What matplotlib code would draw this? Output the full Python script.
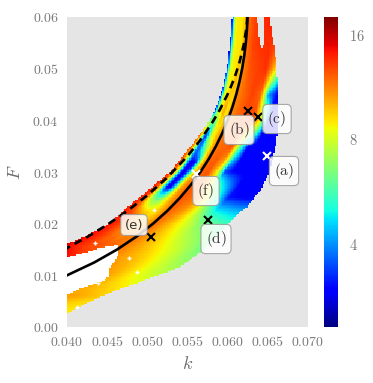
import numpy as np
import matplotlib
matplotlib.use('Agg')
import matplotlib.pyplot as plt
from matplotlib.colors import LogNorm
from matplotlib.path import Path

plt.rcParams['mathtext.fontset'] = 'cm'

# ---------------- data ----------------
# saddle-node curve (solid)
sn_F = [0.002, 0.004, 0.006, 0.008, 0.0095, 0.01, 0.0125, 0.015, 0.0175, 0.02, 0.0225,
        0.025, 0.0275, 0.03, 0.0325, 0.035, 0.0375, 0.04, 0.0425, 0.045, 0.0475,
        0.05, 0.0525, 0.055, 0.0575, 0.06, 0.061]
sn_k = [0.020361, 0.027623, 0.03273, 0.036721, 0.039234, 0.04, 0.043402, 0.046237,
        0.048644, 0.050711, 0.0525, 0.054057, 0.055416, 0.056603, 0.057639, 0.058541,
        0.059325, 0.06, 0.060578, 0.061066, 0.061472, 0.061803, 0.062064, 0.06226,
        0.062396, 0.062474, 0.06249]

# Hopf curve (dashed)
hopf_k = [0.0395, 0.04, 0.0425, 0.045, 0.0475, 0.05, 0.0525, 0.055, 0.0565, 0.058,
          0.059, 0.06, 0.0605, 0.061, 0.0615, 0.062, 0.0623, 0.0624, 0.06245]
hopf_F = [0.014879, 0.015279, 0.01741, 0.019787, 0.022454, 0.025476, 0.028962,
          0.033082, 0.035986, 0.039357, 0.041981, 0.045066, 0.046865, 0.048922,
          0.051383, 0.054617, 0.057504, 0.058966, 0.0605]

# outer (upper-left) boundary of the coloured region
edge_k = [0.0395, 0.04, 0.04286, 0.04535, 0.04784, 0.05033, 0.0532, 0.05618, 0.0578,
          0.05842, 0.0593, 0.05992, 0.06029, 0.06054, 0.06058]
edge_F = [0.01572, 0.01606, 0.0180, 0.02013, 0.02361, 0.02671, 0.03058, 0.03658,
          0.04006, 0.042, 0.04587, 0.05032, 0.05497, 0.06, 0.0606]

# right / lower boundary of the coloured region (top to bottom)
rb_k = [0.06527, 0.06527, 0.06552, 0.06589, 0.06614, 0.06627, 0.06627, 0.06589,
        0.06527, 0.06428, 0.06241, 0.06154, 0.06029, 0.05818, 0.05618, 0.05407,
        0.0522, 0.05033, 0.04834, 0.04623, 0.04411, 0.04199, 0.04, 0.0395]
rb_F = [0.0606, 0.06, 0.0565, 0.05399, 0.04876, 0.04393, 0.03812, 0.03425, 0.03038,
        0.0269, 0.02322, 0.02225, 0.02032, 0.01684, 0.01393, 0.01161, 0.01045,
        0.00948, 0.00832, 0.00716, 0.00581, 0.00426, 0.00271, 0.0025]

# white pocket in the lower left
hole_k = [0.03963, 0.04249, 0.04411, 0.04622, 0.04647, 0.04622, 0.04535, 0.04523,
          0.04411, 0.04212, 0.04, 0.03963]
hole_F = [0.01335, 0.01451, 0.01529, 0.01587, 0.01548, 0.01335, 0.01161, 0.00968,
          0.00871, 0.00774, 0.00619, 0.006]

# notch between the two fingers at the top
gap_k = [0.06365, 0.06378, 0.06415, 0.0644, 0.06465, 0.06465]
gap_F = [0.0606, 0.05709, 0.05418, 0.05399, 0.0565, 0.0606]

# isolated white specks
speck_k = [0.04349, 0.04772, 0.04871, 0.04386, 0.05083, 0.04124]
speck_F = [0.01625, 0.01335, 0.01064, 0.00851, 0.02264, 0.00387]

# values across the band left of the solid curve (t: 0 = outer edge, 1 = solid curve)
band_t = [0.0, 0.1, 0.2, 0.3, 0.4, 0.5, 0.6, 0.7, 0.8, 0.9, 1.0]
band_F = [0.013, 0.016, 0.022, 0.027, 0.032, 0.037, 0.042, 0.048, 0.055, 0.06]
band_vals = [
    [15, 14.5, 14, 13.5, 13, 13, 12.5, 12, 12, 11.5, 11.5],
    [15, 14.5, 14, 13.5, 13, 12.5, 12.5, 12, 12, 11.5, 11.5],
    [14, 13.5, 13, 12, 11, 10, 9.5, 9, 9.5, 10.5, 11.5],
    [14, 13, 9.5, 5.0, 3.0, 2.9, 4.5, 8.0, 10.5, 11.5, 12],
    [13.5, 11, 8.5, 4.6, 3.0, 2.9, 3.1, 5.2, 8.5, 10.5, 11],
    [12, 9.5, 4.8, 3.1, 4.2, 6.5, 8.5, 9, 10, 10.5, 11],
    [2.9, 4.8, 7.5, 8.5, 9, 10, 10.5, 9, 9, 10, 10.5],
    [2.9, 4.6, 7.5, 8.5, 8.8, 9, 9, 10, 10, 9, 10],
    [2.9, 4.4, 7.5, 8.5, 9, 9, 9, 9, 9.5, 10, 10.5],
    [2.9, 4.4, 7.5, 8.5, 9, 9, 9, 9, 9.5, 10, 10.5],
]

# values right of the solid curve (d = k - k_solid)
right_d = [0.0, 0.001, 0.002, 0.003, 0.004, 0.005, 0.006, 0.008, 0.010, 0.012, 0.016]
right_F = [0.002, 0.006, 0.01, 0.015, 0.02, 0.025, 0.03, 0.035, 0.04, 0.045, 0.05, 0.055, 0.06]
right_vals = [
    [9, 9, 9, 9, 9, 9, 9, 9, 9, 9, 9],
    [10.5, 10.5, 10.5, 10.5, 10.5, 10.5, 10.5, 10.5, 10, 9.5, 9],
    [11, 11, 11, 11, 10.8, 10.5, 10, 8.8, 8, 7.5, 7],
    [11.5, 11, 10.5, 10, 9.5, 9, 8.5, 7.5, 6.5, 6, 6],
    [12, 11, 10, 9, 8.2, 7.3, 6.5, 5.8, 5.3, 5.0, 5.0],
    [12.5, 12, 11.5, 9.5, 6.5, 4.6, 3.1, 2.9, 2.9, 2.9, 2.9],
    [12, 12.5, 9, 3.4, 3.0, 2.9, 2.9, 2.9, 2.9, 2.9, 2.9],
    [11.5, 12, 12.5, 6, 3.0, 2.9, 2.9, 2.9, 2.9, 2.9, 2.9],
    [11, 12, 12.5, 13, 9, 3.0, 2.9, 2.9, 2.9, 2.9, 2.9],
    [11, 12, 13, 12, 4, 3.0, 2.9, 2.9, 2.9, 2.9, 2.9],
    [11, 12.5, 13, 13.5, 10, 5, 4, 4, 4, 4, 4],
    [11.5, 13, 13.5, 13.5, 13, 13, 13, 13, 13, 13, 13],
    [11.5, 13, 13.5, 14, 13.5, 13, 13, 13, 13, 13, 13],
]

# marked parameter points
pt_names = ['a', 'b', 'c', 'd', 'e', 'f']
pt_k = [0.0649, 0.06253, 0.06378, 0.05755, 0.05046, 0.05606]
pt_F = [0.0331, 0.0418, 0.0406, 0.0207, 0.0174, 0.0296]
pt_colors = ['white', 'black', 'black', 'black', 'black', 'white']
lab_k = [0.06701, 0.06141, 0.06614, 0.05855, 0.04834, 0.0573]
lab_F = [0.03019, 0.03813, 0.04026, 0.01703, 0.01974, 0.02632]

x_ticks = [0.040, 0.045, 0.050, 0.055, 0.060, 0.065, 0.070]
y_ticks = [0.00, 0.01, 0.02, 0.03, 0.04, 0.05, 0.06]
cb_ticks = [4, 8, 16]

# ---------------- field ----------------
nk, nF = 160, 200
kc = 0.04 + (np.arange(nk) + 0.5) * (0.03 / nk)
Fc = (np.arange(nF) + 0.5) * (0.06 / nF)
band_vals = np.array(band_vals, float)
right_vals = np.array(right_vals, float)
vals = np.full((nF, nk), np.nan)
for i, f in enumerate(Fc):
    profL = [np.interp(f, band_F, band_vals[:, j]) for j in range(len(band_t))]
    profR = [np.interp(f, right_F, right_vals[:, j]) for j in range(len(right_d))]
    ks = np.interp(f, sn_F, sn_k)
    ke = np.interp(f, edge_F, edge_k)
    tt = np.clip((kc - ke) / max(ks - ke, 1e-6), 0, 1)
    dd = np.clip(kc - ks, 0, None)
    vals[i] = np.where(kc < ks, np.interp(tt, band_t, profL), np.interp(dd, right_d, profR))

KK, FFg = np.meshgrid(kc, Fc)
pts = np.column_stack([KK.ravel(), FFg.ravel()])
dom = Path(np.column_stack([edge_k + rb_k, edge_F + rb_F]))
inside = dom.contains_points(pts)
in_hole = Path(np.column_stack([hole_k, hole_F])).contains_points(pts)
inside &= ~in_hole
inside &= ~Path(np.column_stack([gap_k, gap_F])).contains_points(pts)
vals[~inside.reshape(vals.shape)] = np.nan

# ---------------- figure ----------------
W, H = 373, 383
fig = plt.figure(figsize=(W / 100, H / 100), dpi=100)
ax = fig.add_axes([67 / W, 1 - 327 / H, 241 / W, 310 / H])
cax = fig.add_axes([324 / W, 1 - 327 / H, 14 / W, 310 / H])

norm = LogNorm(vmin=2.3, vmax=18)
hole_img = np.where(in_hole.reshape(vals.shape), 1.0, np.nan)
ax.imshow(np.ma.masked_invalid(hole_img), origin='lower', extent=[0.04, 0.07, 0, 0.06],
          aspect='auto', cmap='gray', vmin=0, vmax=1, interpolation='nearest', zorder=1)
im = ax.imshow(np.ma.masked_invalid(vals), origin='lower', extent=[0.04, 0.07, 0, 0.06],
               aspect='auto', cmap='jet', norm=norm, interpolation='nearest', zorder=1)
ax.plot(speck_k, speck_F, '+', color='white', ms=3.5, mew=1.0, zorder=2)
ax.set_facecolor('#e5e5e5')
for s in ax.spines.values():
    s.set_visible(False)

ax.plot(sn_k, sn_F, color='black', lw=1.9, zorder=3)
ax.plot(hopf_k, hopf_F, color='black', lw=1.9, ls=(0, (3, 2)), zorder=3)

for n, kx, fy, c, lx, ly in zip(pt_names, pt_k, pt_F, pt_colors, lab_k, lab_F):
    ax.plot(kx, fy, 'x', color=c, ms=5.5, mew=1.5, zorder=4)
    box = dict(boxstyle='round,pad=0.3', fc='white', ec='#9a9a9a', lw=0.8, alpha=0.85)
    if n == 'e':
        ax.text(lx, ly, '(e)', fontsize=9.5, family='DejaVu Sans', ha='center',
                va='center', color='#333333', bbox=box, zorder=5)
    else:
        ax.text(lx, ly, r'$\mathrm{(%s)}$' % n, fontsize=11, ha='center', va='center',
                color='#333333', bbox=box, zorder=5)

ax.set_xlim(0.04, 0.07)
ax.set_ylim(0, 0.06)
ax.set_xticks(x_ticks)
ax.set_xticklabels(['$%.3f$' % v for v in x_ticks])
ax.set_yticks(y_ticks)
ax.set_yticklabels(['$%.2f$' % v for v in y_ticks])
ax.tick_params(length=0, labelsize=10, colors='#7a7a7a', pad=6)
ax.set_xlabel('$k$', fontsize=13, color='#6a6a6a', labelpad=4)
ax.set_ylabel('$F$', fontsize=13, color='#6a6a6a', labelpad=6)

cb = fig.colorbar(im, cax=cax)
cb.ax.minorticks_off()
cb.set_ticks(cb_ticks)
cb.set_ticklabels(['$%d$' % v for v in cb_ticks])
cb.outline.set_visible(False)
cax.tick_params(length=0, labelsize=10.5, colors='#7a7a7a', pad=8)

fig.savefig('out.png', dpi=100)
